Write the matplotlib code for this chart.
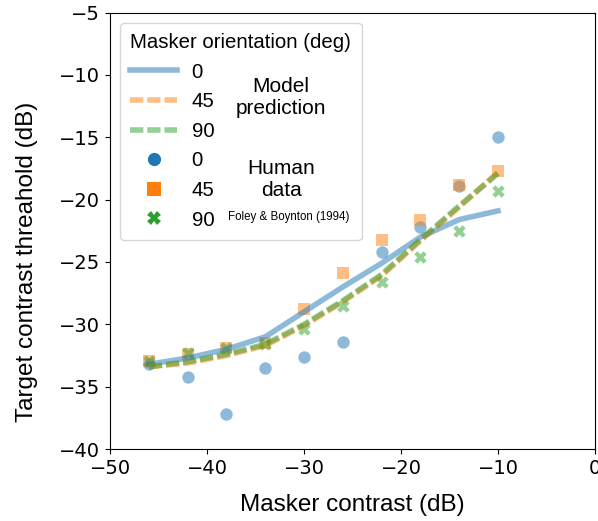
import numpy as np
import matplotlib.pyplot as plt
from matplotlib.lines import Line2D

plt.rcParams['font.family'] = ['Liberation Sans', 'DejaVu Sans']
plt.rcParams['font.size'] = 14
plt.rcParams['axes.unicode_minus'] = True

# masker contrast (dB)
masker_db = [-46, -42, -38, -34, -30, -26, -22, -18, -14, -10]

# model predictions per masker orientation
model_0 = [-33.2, -32.7, -32.0, -31.0, -29.0, -27.0, -25.1, -23.0, -21.6, -20.9]
model_45 = [-33.4, -33.1, -32.5, -31.7, -30.1, -28.2, -26.1, -23.3, -20.6, -17.8]
model_90 = [-33.4, -33.0, -32.4, -31.6, -30.0, -28.1, -26.0, -23.2, -20.5, -17.9]

# human data, Foley & Boynton (1994)
human_0 = [-33.2, -34.2, -37.2, -33.5, -32.6, -31.4, -24.2, -22.2, -18.9, -15.0]
human_45 = [-32.9, -32.4, -31.9, -31.5, -28.8, -25.9, -23.2, -21.6, -18.8, -17.7]
human_90 = [-32.9, -32.3, -31.9, -31.6, -30.4, -28.5, -26.6, -24.6, -22.5, -19.3]

orient = ['0', '45', '90']
colors = ['tab:blue', 'tab:orange', 'tab:green']

fig = plt.figure(figsize=(5.98, 5.21), dpi=100)
ax = fig.add_axes([0.184, 0.138, 0.811, 0.838])

dash = (2.4, 0.7)
ax.plot(masker_db, model_0, color=colors[0], lw=4, alpha=0.5)
ax.plot(masker_db, model_45, color=colors[1], lw=4, alpha=0.5, dashes=dash)
ax.plot(masker_db, model_90, color=colors[2], lw=4, alpha=0.5, dashes=dash)

ax.scatter(masker_db, human_0, marker='o', s=80, color=colors[0], alpha=0.5, lw=0)
ax.scatter(masker_db, human_45, marker='s', s=80, color=colors[1], alpha=0.5, lw=0)
ax.scatter(masker_db, human_90, marker='X', s=80, color=colors[2], alpha=0.5, lw=0)

ax.set_xlim(-50, 0)
ax.set_ylim(-40, -5)
ax.set_xticks(np.arange(-50, 1, 10))
ax.set_yticks(np.arange(-40, -4, 5))
ax.tick_params(labelsize=14, labelfontfamily='DejaVu Sans')
ax.set_xlabel('Masker contrast (dB)', fontsize=17.5, labelpad=12)
ax.set_ylabel('Target contrast threahold (dB)', fontsize=17.5)
ax.yaxis.set_label_coords(-0.149, 0.429)

handles = [
    Line2D([], [], color=colors[0], lw=4, alpha=0.5),
    Line2D([], [], color=colors[1], lw=4, alpha=0.5, dashes=dash),
    Line2D([], [], color=colors[2], lw=4, alpha=0.5, dashes=dash),
    Line2D([], [], color=colors[0], marker='o', ls='', ms=9.5, mew=0),
    Line2D([], [], color=colors[1], marker='s', ms=9.5, ls='', mew=0),
    Line2D([], [], color=colors[2], marker='X', ms=9.5, ls='', mew=0),
]
labels = orient + orient
ax.legend(handles, labels, title='Masker orientation (deg)', loc='upper left',
          bbox_to_anchor=(0.0, 1.0), borderaxespad=0.5, alignment='left',
          handlelength=2.3, handletextpad=0.7, labelspacing=0.52,
          borderpad=0.5, title_fontsize=14.7, fontsize=14.7)

ax.text(-32.35, -11.8, 'Model\nprediction', ha='center', va='center',
        fontsize=15, zorder=10)
ax.text(-32.35, -18.4, 'Human\ndata', ha='center', va='center',
        fontsize=15, zorder=10)
ax.text(-31.6, -21.4, 'Foley & Boynton (1994)', ha='center', va='center',
        fontsize=8.3, zorder=10)

fig.savefig('out.png', dpi=100)
